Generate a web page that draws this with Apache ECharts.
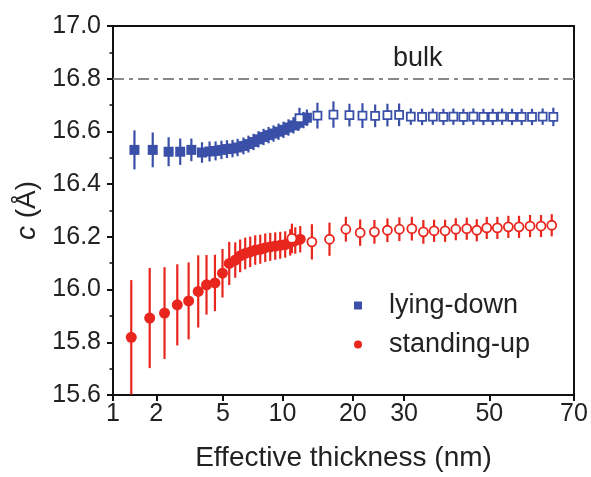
<!DOCTYPE html>
<html>
<head>
    <meta charset="UTF-8">
    <title>c vs effective thickness</title>
    <script type="text/javascript" src="https://cdn.jsdelivr.net/npm/echarts@6/dist/echarts.min.js"></script>
    <style>
        body { margin: 0; padding: 0; background: #fff; }
        #chart { width: 591px; height: 477px; }
    </style>
</head>
<body>
    <div id="chart"></div>
    <script>
        // x axis of the source is non-uniform: tick values and where they sit along the axis
        var xTicks = [1, 2, 5, 10, 20, 30, 50, 70];
        var xTickStops = [0, 43.3, 110, 169.6, 240, 291.3, 376.6, 461.3];

        var yTicks = { min: 15.6, max: 17.0, step: 0.2 };
        var bulkC = 16.8;

        // lying-down, filled
        var lyingX = [1.41, 1.89, 2.37, 2.78, 3.24, 3.75, 4.16, 4.52, 4.90, 5.24, 5.59, 5.93, 6.35, 6.73, 7.14, 7.56, 8.02, 8.50, 9.01, 9.55, 10.10, 10.61, 11.14, 11.71, 12.30, 12.72];
        var lyingC = [16.530, 16.530, 16.523, 16.523, 16.530, 16.520, 16.524, 16.526, 16.530, 16.533, 16.535, 16.539, 16.545, 16.552, 16.560, 16.570, 16.579, 16.586, 16.592, 16.599, 16.606, 16.615, 16.623, 16.633, 16.643, 16.652];
        var lyingErr = [0.074, 0.066, 0.055, 0.050, 0.043, 0.039, 0.038, 0.036, 0.035, 0.034, 0.033, 0.033, 0.032, 0.032, 0.031, 0.031, 0.031, 0.031, 0.031, 0.031, 0.031, 0.031, 0.031, 0.031, 0.031, 0.031];

        // lying-down, open
        var lyingOpenX = [11.82, 14.11, 16.52, 19.34, 21.58, 23.86, 26.29, 28.84, 31.23, 33.41, 35.63, 37.96, 40.30, 42.79, 45.43, 48.24, 50.68, 52.59, 54.72, 56.86, 59.24, 61.8, 64.48];
        var lyingOpenC = [16.650, 16.660, 16.664, 16.662, 16.660, 16.659, 16.662, 16.663, 16.656, 16.655, 16.656, 16.655, 16.656, 16.655, 16.656, 16.655, 16.655, 16.656, 16.655, 16.655, 16.655, 16.656, 16.655];
        var lyingOpenErr = [0.040, 0.049, 0.050, 0.043, 0.047, 0.043, 0.043, 0.043, 0.031, 0.031, 0.031, 0.031, 0.031, 0.031, 0.031, 0.031, 0.031, 0.031, 0.031, 0.031, 0.031, 0.031, 0.035];

        // standing-up, filled
        var standX = [1.34, 1.80, 2.24, 2.67, 3.12, 3.56, 3.99, 4.48, 4.97, 5.38, 5.77, 6.11, 6.48, 6.87, 7.28, 7.72, 8.18, 8.67, 9.19, 9.74, 10.27, 10.79, 11.34, 11.91];
        var standC = [15.819, 15.892, 15.911, 15.942, 15.957, 15.993, 16.018, 16.025, 16.062, 16.099, 16.112, 16.128, 16.137, 16.143, 16.150, 16.153, 16.159, 16.162, 16.165, 16.168, 16.171, 16.179, 16.186, 16.191];
        var standErr = [0.217, 0.190, 0.174, 0.154, 0.146, 0.137, 0.113, 0.107, 0.092, 0.082, 0.067, 0.062, 0.060, 0.058, 0.056, 0.055, 0.054, 0.053, 0.052, 0.051, 0.050, 0.050, 0.050, 0.050];

        // standing-up, open
        var standOpenX = [10.97, 13.36, 15.89, 18.67, 21.19, 23.72, 26.29, 28.9, 31.42, 33.67, 35.9, 38.35, 40.89, 43.67, 46.37, 49.23, 51.62, 53.92, 56.26, 58.78, 61.4, 64.07];
        var standOpenC = [16.194, 16.181, 16.191, 16.229, 16.216, 16.219, 16.225, 16.229, 16.231, 16.219, 16.223, 16.223, 16.229, 16.231, 16.225, 16.234, 16.234, 16.238, 16.238, 16.241, 16.241, 16.244];
        var standOpenErr = [0.056, 0.067, 0.063, 0.047, 0.050, 0.045, 0.045, 0.045, 0.045, 0.045, 0.042, 0.042, 0.042, 0.042, 0.042, 0.042, 0.042, 0.042, 0.042, 0.042, 0.042, 0.042];

        var BLUE = '#3a50a8';
        var RED = '#e8261e';
        var FONT = 'Liberation Sans';
        var TEXT = '#222';

        // thickness -> axis units, log interpolation inside each tick segment
        function xScale(v) {
            var i = 0;
            while (i < xTicks.length - 2 && v > xTicks[i + 1]) i++;
            var f = Math.log(v / xTicks[i]) / Math.log(xTicks[i + 1] / xTicks[i]);
            return xTickStops[i] + (xTickStops[i + 1] - xTickStops[i]) * f;
        }

        function rows(xs, ys, es) {
            return xs.map(function (x, i) { return [xScale(x), ys[i], es[i]]; });
        }

        function errBars(name, data, color) {
            return {
                type: 'custom',
                name: name,
                clip: true,
                z: 1,
                data: data,
                renderItem: function (params, api) {
                    var x = api.value(0), y = api.value(1), e = api.value(2);
                    var p1 = api.coord([x, y + e]);
                    var p2 = api.coord([x, y - e]);
                    return {
                        type: 'line',
                        shape: { x1: p1[0], y1: p1[1], x2: p2[0], y2: p2[1] },
                        style: { stroke: color, lineWidth: 2.2 }
                    };
                }
            };
        }

        function dots(name, data, symbol, size, color, open) {
            return {
                type: 'scatter',
                name: name,
                z: 3,
                symbol: symbol,
                symbolSize: size,
                data: data,
                itemStyle: open
                    ? { color: '#fff', borderColor: color, borderWidth: 1.8, opacity: 1 }
                    : { color: color, opacity: 1 }
            };
        }

        var lyingData = rows(lyingX, lyingC, lyingErr);
        var lyingOpenData = rows(lyingOpenX, lyingOpenC, lyingOpenErr);
        var standData = rows(standX, standC, standErr);
        var standOpenData = rows(standOpenX, standOpenC, standOpenErr);

        var xTickPos = xTicks.map(xScale);

        var chart = echarts.init(document.getElementById('chart'), null, { renderer: 'canvas' });

        var option = {
            animation: false,
            backgroundColor: '#fff',
            grid: {
                left: 113, right: 17, top: 26, bottom: 80,
                show: true, borderColor: '#111', borderWidth: 2
            },
            title: {
                text: 'bulk',
                left: 388, top: 40,
                textStyle: { fontFamily: FONT, fontSize: 27, fontWeight: 'normal', color: TEXT }
            },
            legend: {
                orient: 'vertical',
                left: 349, top: 287,
                itemWidth: 8, itemHeight: 8,
                itemGap: 12,
                data: [
                    { name: 'lying-down', icon: 'rect' },
                    { name: 'standing-up', icon: 'circle' }
                ],
                textStyle: { fontFamily: FONT, fontSize: 27, color: TEXT, padding: [0, 0, 0, 22] }
            },
            xAxis: {
                type: 'value',
                min: 0,
                max: xTickStops[xTickStops.length - 1],
                name: 'Effective thickness (nm)',
                nameLocation: 'middle',
                nameGap: 49,
                nameTextStyle: { fontFamily: FONT, fontSize: 28, color: TEXT },
                axisLine: { lineStyle: { color: '#111', width: 2 } },
                axisTick: { show: true, inside: false, length: 6, customValues: xTickPos, lineStyle: { color: '#111', width: 2 } },
                axisLabel: {
                    customValues: xTickPos,
                    margin: 7,
                    fontFamily: FONT, fontSize: 25, color: TEXT,
                    formatter: function (val) {
                        for (var i = 0; i < xTickPos.length; i++) {
                            if (Math.abs(xTickPos[i] - val) < 1e-6) return String(xTicks[i]);
                        }
                        return '';
                    }
                },
                splitLine: { show: false }
            },
            yAxis: {
                type: 'value',
                min: yTicks.min,
                max: yTicks.max,
                interval: yTicks.step,
                name: '{i|c} (Å)',
                nameLocation: 'middle',
                nameGap: 70,
                nameTextStyle: {
                    fontFamily: FONT, fontSize: 28, color: TEXT,
                    rich: { i: { fontFamily: FONT, fontSize: 28, fontStyle: 'italic', color: TEXT } }
                },
                axisLine: { lineStyle: { color: '#111', width: 2 } },
                axisTick: { show: true, inside: false, length: 6, lineStyle: { color: '#111', width: 2 } },
                minorTick: { show: true, splitNumber: 2, length: 3.5, lineStyle: { color: '#111', width: 1.5 } },
                axisLabel: {
                    margin: 12,
                    fontFamily: FONT, fontSize: 25, color: TEXT,
                    formatter: function (v) { return v.toFixed(1); }
                },
                splitLine: { show: false }
            },
            series: [
                errBars('lying-err', lyingData, BLUE),
                errBars('lying-open-err', lyingOpenData, BLUE),
                errBars('stand-err', standData, RED),
                errBars('stand-open-err', standOpenData, RED),
                Object.assign(dots('lying-down', lyingData, 'rect', 10, BLUE, false), {
                    markLine: {
                        silent: true,
                        symbol: 'none',
                        label: { show: false },
                        lineStyle: { color: '#888', width: 2.2, type: [11, 5, 4, 5] },
                        data: [{ yAxis: bulkC }]
                    }
                }),
                dots('lying-open', lyingOpenData, 'rect', 8, BLUE, true),
                dots('standing-up', standData, 'circle', 11, RED, false),
                dots('stand-open', standOpenData, 'circle', 9, RED, true)
            ]
        };

        chart.setOption(option);
    </script>
</body>
</html>
